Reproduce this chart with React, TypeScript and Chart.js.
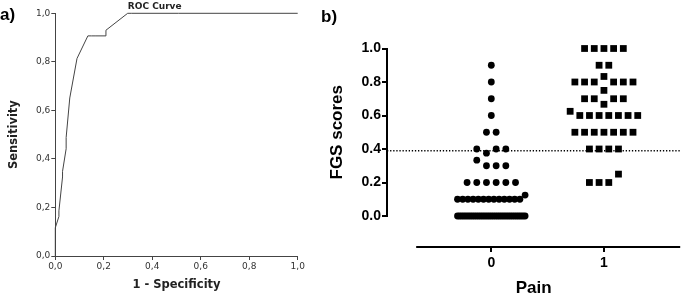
import React, { useEffect, useRef } from 'react';
import { Chart, registerables } from 'chart.js';

Chart.register(...registerables);

// ---------- Panel b) FGS scores (rows of equal-ish values plotted side by side) ----------
const noPainRows: number[][] = [
  [0.9],
  [0.8],
  [0.7],
  [0.6],
  [0.5, 0.5],
  [0.4, 0.375, 0.4, 0.4],
  [0.333, 0.3, 0.3, 0.3],
  [0.2, 0.2, 0.2, 0.2, 0.2, 0.2],
  [0.1, 0.1, 0.1, 0.1, 0.1, 0.1, 0.1, 0.1, 0.1, 0.1, 0.1, 0.1, 0.1, 0.125],
  [0, 0, 0, 0, 0, 0, 0, 0, 0, 0, 0, 0, 0, 0, 0, 0, 0, 0, 0, 0, 0, 0, 0, 0, 0, 0, 0, 0, 0, 0, 0, 0, 0],
];
const painRows: number[][] = [
  [1, 1, 1, 1, 1],
  [0.9, 0.9],
  [0.8, 0.8, 0.8, 0.833, 0.8, 0.8, 0.8],
  [0.75],
  [0.7, 0.7, 0.667, 0.7, 0.7],
  [0.625, 0.6, 0.6, 0.6, 0.6, 0.6, 0.6, 0.6],
  [0.5, 0.5, 0.5, 0.5, 0.5, 0.5, 0.5],
  [0.4, 0.4, 0.4, 0.4],
  [0.2, 0.2, 0.2, 0.25],
];
const groupValues = [0, 1];
const groupLabels = ['0', '1'];
const cutoff = 0.39;
const fgsTicks = [0, 0.2, 0.4, 0.6, 0.8, 1.0];
const rocTicks = [0, 0.2, 0.4, 0.6, 0.8, 1.0];

// ---------- Panel a) ROC curve, derived from the same scores ----------
const noPainAll = noPainRows.flat();
const painAll = painRows.flat();
const thresholds = Array.from(new Set([...noPainAll, ...painAll])).sort((a, b) => b - a);
const rocPoints = [{ x: 0, y: 0 }].concat(
  thresholds.map((t) => ({
    x: noPainAll.filter((v) => v >= t).length / noPainAll.length,
    y: painAll.filter((v) => v >= t).length / painAll.length,
  }))
);

// layout constants (not data)
const DOT_STEP = 0.086;
const MAX_ROW_SPAN = 0.6;
const X_MIN = -0.926;
const X_MAX = 1.677;
const X_LINE_START = -0.667;
const X_AXIS_AT = -0.185;

function layoutRows(rows: number[][], center: number) {
  const pts: { x: number; y: number }[] = [];
  rows.forEach((row) => {
    const n = row.length;
    const step = n > 1 ? Math.min(DOT_STEP, MAX_ROW_SPAN / (n - 1)) : 0;
    row.forEach((v, i) => pts.push({ x: center + (i - (n - 1) / 2) * step, y: v }));
  });
  return pts;
}

const leftFont = '"DejaVu Sans", sans-serif';
const rightFont = '"Liberation Sans", Arial, sans-serif';

export default function App() {
  const leftRef = useRef<HTMLCanvasElement>(null);
  const rightRef = useRef<HTMLCanvasElement>(null);

  useEffect(() => {
    const leftLabels = {
      id: 'leftLabels',
      afterDraw(chart: any) {
        const ctx = chart.ctx;
        const xs = chart.scales.x;
        ctx.save();
        ctx.fillStyle = '#000';
        ctx.font = `bold 17px ${rightFont}`;
        ctx.textAlign = 'left';
        ctx.textBaseline = 'alphabetic';
        ctx.fillText('a)', 0, 20);
        ctx.fillStyle = '#222';
        ctx.font = `bold 9px ${leftFont}`;
        ctx.textAlign = 'center';
        ctx.fillText('ROC Curve', xs.getPixelForValue(0.41), 8.5);
        ctx.restore();
      },
    };

    const left = new Chart(leftRef.current!, {
      type: 'scatter',
      data: {
        datasets: [
          {
            data: rocPoints,
            showLine: true,
            borderColor: '#444',
            borderWidth: 1,
            pointRadius: 0,
            clip: false as any,
          },
        ],
      },
      options: {
        responsive: false,
        animation: false,
        devicePixelRatio: 1,
        layout: { padding: { top: 13.3, right: 12.3, bottom: 0, left: 0 } },
        plugins: { legend: { display: false }, tooltip: { enabled: false } },
        scales: {
          x: {
            type: 'linear',
            min: 0,
            max: 1,
            afterFit: (s: any) => {
              s.height = 41;
            },
            afterBuildTicks: (s: any) => {
              s.ticks = rocTicks.map((v) => ({ value: v }));
            },
            grid: { drawOnChartArea: false, drawTicks: true, tickLength: 4, color: '#444', lineWidth: 1 },
            border: { display: true, color: '#444', width: 1 },
            ticks: {
              autoSkip: false,
              maxRotation: 0,
              padding: 1,
              color: '#333',
              font: { family: leftFont, size: 9 },
              callback: (v: any) => Number(v).toFixed(1).replace('.', ','),
            },
            title: {
              display: true,
              text: '1 - Specificity',
              color: '#222',
              font: { family: leftFont, size: 11.5, weight: 'bold' },
              padding: { top: 0, bottom: 5 },
            },
          },
          y: {
            type: 'linear',
            min: 0,
            max: 1,
            afterFit: (s: any) => {
              s.width = 55.3;
            },
            afterBuildTicks: (s: any) => {
              s.ticks = rocTicks.map((v) => ({ value: v }));
            },
            grid: { drawOnChartArea: false, drawTicks: true, tickLength: 4, color: '#444', lineWidth: 1 },
            border: { display: true, color: '#444', width: 1 },
            ticks: {
              autoSkip: false,
              padding: 1,
              color: '#333',
              font: { family: leftFont, size: 9 },
              callback: (v: any) => Number(v).toFixed(1).replace('.', ','),
            },
            title: {
              display: true,
              text: 'Sensitivity',
              color: '#222',
              font: { family: leftFont, size: 11.5, weight: 'bold' },
              padding: { top: 7, bottom: 0 },
            },
          },
        },
      } as any,
      plugins: [leftLabels],
    });

    const rightExtras = {
      id: 'rightExtras',
      beforeDatasetsDraw(chart: any) {
        const ctx = chart.ctx;
        const xs = chart.scales.x;
        const ys = chart.scales.y;
        const yPix = ys.getPixelForValue(X_AXIS_AT);
        ctx.save();
        ctx.strokeStyle = '#000';
        ctx.lineWidth = 2;
        ctx.beginPath();
        ctx.moveTo(xs.getPixelForValue(X_LINE_START), yPix);
        ctx.lineTo(xs.getPixelForValue(X_MAX), yPix);
        ctx.stroke();
        ctx.restore();
      },
      afterDraw(chart: any) {
        const ctx = chart.ctx;
        ctx.save();
        ctx.fillStyle = '#000';
        ctx.font = `bold 17px ${rightFont}`;
        ctx.textAlign = 'left';
        ctx.textBaseline = 'alphabetic';
        ctx.fillText('b)', 11, 22);
        ctx.restore();
      },
    };

    const right = new Chart(rightRef.current!, {
      type: 'scatter',
      data: {
        datasets: [
          {
            label: groupLabels[0],
            data: layoutRows(noPainRows, groupValues[0]),
            pointStyle: 'circle',
            pointRadius: 3.4,
            pointBorderWidth: 0,
            backgroundColor: '#000',
            borderColor: '#000',
            clip: false as any,
          },
          {
            label: groupLabels[1],
            data: layoutRows(painRows, groupValues[1]),
            pointStyle: 'rect',
            pointRadius: 4.8,
            pointBorderWidth: 0,
            backgroundColor: '#000',
            borderColor: '#000',
            clip: false as any,
          },
          {
            label: 'cutoff',
            data: [
              { x: X_MIN, y: cutoff },
              { x: X_MAX, y: cutoff },
            ],
            showLine: true,
            borderColor: '#000',
            borderWidth: 1.5,
            borderDash: [1.3, 1.8],
            pointRadius: 0,
            clip: false as any,
          },
        ],
      },
      options: {
        responsive: false,
        animation: false,
        devicePixelRatio: 1,
        layout: { padding: { top: 48.5, right: 0, bottom: 81, left: 0 } },
        plugins: { legend: { display: false }, tooltip: { enabled: false } },
        scales: {
          x: {
            type: 'linear',
            min: X_MIN,
            max: X_MAX,
            position: { y: X_AXIS_AT },
            afterFit: (s: any) => {
              s.height = 50;
            },
            afterBuildTicks: (s: any) => {
              s.ticks = groupValues.map((v) => ({ value: v }));
            },
            grid: { drawOnChartArea: false, drawTicks: true, tickLength: 5, color: '#000', lineWidth: 2 },
            border: { display: false },
            ticks: {
              autoSkip: false,
              maxRotation: 0,
              padding: 3,
              color: '#000',
              font: { family: rightFont, size: 14, weight: 'bold' },
              callback: (v: any) => groupLabels[groupValues.indexOf(Number(v))] ?? '',
            },
            title: {
              display: true,
              text: 'Pain',
              color: '#000',
              font: { family: rightFont, size: 17, weight: 'bold', lineHeight: 1 },
              padding: { top: 0, bottom: 0 },
            },
          },
          y: {
            type: 'linear',
            min: 0,
            max: 1,
            afterFit: (s: any) => {
              s.width = 77;
            },
            afterBuildTicks: (s: any) => {
              s.ticks = fgsTicks.map((v) => ({ value: v }));
            },
            grid: { drawOnChartArea: false, drawTicks: true, tickLength: 5, color: '#000', lineWidth: 2 },
            border: { display: true, color: '#000', width: 2 },
            ticks: {
              autoSkip: false,
              padding: 1,
              color: '#000',
              font: { family: rightFont, size: 14, weight: 'bold' },
              callback: (v: any) => Number(v).toFixed(1),
            },
            title: {
              display: true,
              text: 'FGS scores',
              color: '#000',
              font: { family: rightFont, size: 17, weight: 'bold', lineHeight: 1 },
              padding: { top: 18.5, bottom: 0 },
            },
          },
        },
      } as any,
      plugins: [rightExtras],
    });

    return () => {
      left.destroy();
      right.destroy();
    };
  }, []);

  return (
    <div
      style={{
        position: 'fixed',
        left: 0,
        top: 0,
        width: 685,
        height: 297,
        background: '#fff',
        overflow: 'hidden',
      }}
    >
      <canvas ref={leftRef} width={310} height={297} style={{ position: 'absolute', left: 0, top: 0 }} />
      <canvas ref={rightRef} width={375} height={297} style={{ position: 'absolute', left: 310, top: 0 }} />
    </div>
  );
}
